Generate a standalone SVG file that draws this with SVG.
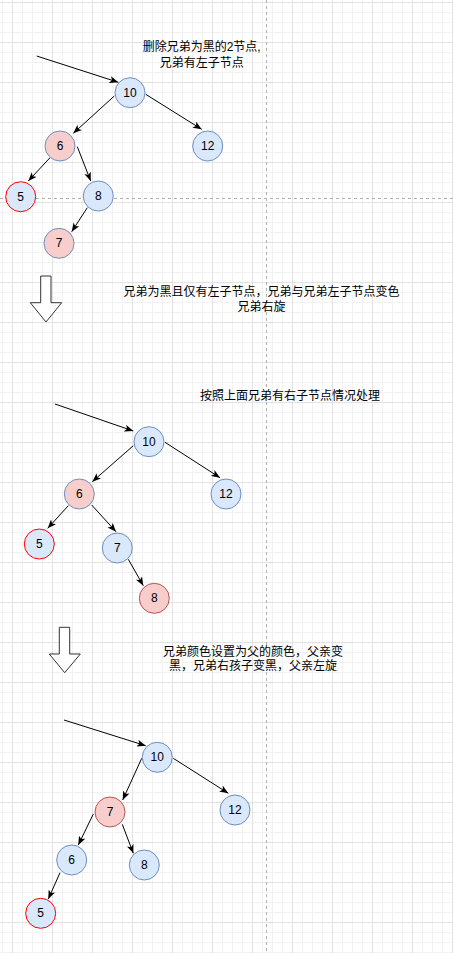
<svg xmlns="http://www.w3.org/2000/svg" width="453" height="953" viewBox="0 0 453 953">
<style>
.n circle{stroke-width:1}
.blue circle{fill:#dae8fc;stroke:#6c8ebf}
.pink circle{fill:#f8cecc;stroke:#6c8ebf}
.red circle{fill:#f8cecc;stroke:#b85450}
.rb circle{fill:#dae8fc;stroke:#ff0000}
.n text{font-family:"Liberation Sans","Noto Sans CJK SC",sans-serif;font-size:12px;fill:#000;text-anchor:middle}
.lbl{font-family:"Liberation Sans","Noto Sans CJK SC",sans-serif;font-size:12px;fill:#000;text-anchor:middle}
.e line{stroke:#000;stroke-width:1;marker-end:url(#ah)}
.blk{fill:#fff;stroke:#333;stroke-width:1}
.dash{stroke:#b0b0b0;stroke-width:1;stroke-dasharray:3 3}
</style>
<defs>
<pattern id="minor" patternUnits="userSpaceOnUse" x="2" y="2" width="10" height="10">
<path d="M0.5,0 V10 M0,0.5 H10" stroke="#f2f2f2" stroke-width="1" fill="none"/>
</pattern>
<pattern id="major" patternUnits="userSpaceOnUse" x="12" y="2" width="40" height="40">
<path d="M0.5,0 V40 M0,0.5 H40" stroke="#e2e2e2" stroke-width="1" fill="none"/>
</pattern>
<marker id="ah" viewBox="0 0 10 8" refX="10" refY="4" markerWidth="9" markerHeight="7" markerUnits="userSpaceOnUse" orient="auto">
<path d="M0,0 L10,4 L0,8 L2.5,4 Z" fill="#000"/>
</marker>
</defs>
<rect width="453" height="953" fill="#fff"/>
<rect width="453" height="953" fill="url(#minor)"/>
<rect width="453" height="953" fill="url(#major)"/>
<line class="dash" x1="266.5" y1="0" x2="266.5" y2="953"/>
<line class="dash" x1="0" y1="198.5" x2="453" y2="198.5"/>

<g id="connectors" class="e">
<line x1="36.7" y1="56" x2="118.3" y2="82.3"/>
<line x1="114.3" y1="96" x2="73.3" y2="133.3"/>
<line x1="145.7" y1="94.3" x2="201.7" y2="129.3"/>
<line x1="50" y1="157.7" x2="28.3" y2="181"/>
<line x1="77.3" y1="146.7" x2="90.7" y2="181"/>
<line x1="87.3" y1="207.7" x2="71.7" y2="231.7"/>

<line x1="55" y1="404" x2="133.3" y2="431"/>
<line x1="133.3" y1="445.7" x2="92.3" y2="481.7"/>
<line x1="165" y1="442.3" x2="220" y2="477.7"/>
<line x1="68.3" y1="505.7" x2="47.7" y2="528.3"/>
<line x1="91.7" y1="505" x2="116" y2="531.7"/>
<line x1="128.3" y1="559.3" x2="143.3" y2="585.7"/>

<line x1="64" y1="720" x2="145.7" y2="745.7"/>
<line x1="141.7" y1="758.3" x2="122.7" y2="800"/>
<line x1="173.3" y1="758.3" x2="228.3" y2="793.3"/>
<line x1="93.3" y1="814" x2="78.3" y2="845"/>
<line x1="122.3" y1="824.3" x2="133.3" y2="853.3"/>
<line x1="60" y1="872.7" x2="48.3" y2="899"/>
</g>

<g id="t1-n10" class="n blue"><circle cx="130" cy="92.7" r="15"/><text x="130" y="96.7">10</text></g>
<g id="t1-n6" class="n pink"><circle cx="60" cy="146" r="15"/><text x="60" y="150">6</text></g>
<g id="t1-n12" class="n blue"><circle cx="207.7" cy="146" r="15"/><text x="207.7" y="150">12</text></g>
<g id="t1-n5" class="n rb"><circle cx="20.7" cy="196.7" r="15"/><text x="20.7" y="200.7">5</text></g>
<g id="t1-n8" class="n blue"><circle cx="98.3" cy="196" r="15"/><text x="98.3" y="200">8</text></g>
<g id="t1-n7" class="n pink"><circle cx="59" cy="243.3" r="15"/><text x="59" y="247.3">7</text></g>

<g id="t2-n10" class="n blue"><circle cx="149" cy="441.7" r="15"/><text x="149" y="445.7">10</text></g>
<g id="t2-n6" class="n pink"><circle cx="79.3" cy="494" r="15"/><text x="79.3" y="498">6</text></g>
<g id="t2-n12" class="n blue"><circle cx="226" cy="494" r="15"/><text x="226" y="498">12</text></g>
<g id="t2-n5" class="n rb"><circle cx="39.3" cy="544" r="15"/><text x="39.3" y="548">5</text></g>
<g id="t2-n7" class="n blue"><circle cx="117.3" cy="548" r="15"/><text x="117.3" y="552">7</text></g>
<g id="t2-n8" class="n red"><circle cx="154.3" cy="598.3" r="15"/><text x="154.3" y="602.3">8</text></g>

<g id="t3-n10" class="n blue"><circle cx="157.3" cy="757.3" r="15"/><text x="157.3" y="761.3">10</text></g>
<g id="t3-n7" class="n red"><circle cx="110" cy="812" r="15"/><text x="110" y="816">7</text></g>
<g id="t3-n12" class="n blue"><circle cx="235" cy="810" r="15"/><text x="235" y="814">12</text></g>
<g id="t3-n6" class="n blue"><circle cx="71.7" cy="860" r="15"/><text x="71.7" y="864">6</text></g>
<g id="t3-n8" class="n blue"><circle cx="144.3" cy="865" r="15"/><text x="144.3" y="869">8</text></g>
<g id="t3-n5" class="n rb"><circle cx="40.7" cy="913.3" r="15"/><text x="40.7" y="917.3">5</text></g>

<g id="arrow1"><path class="blk" d="M40.7,276 L51,276 L51,302.7 L61.7,302.7 L46,322 L30.3,302.7 L40.7,302.7 Z"/></g>
<g id="arrow2"><path class="blk" d="M59.3,627.3 L69.7,627.3 L69.7,654 L80.3,654 L64.7,672.7 L49.3,654 L59.3,654 Z"/></g>

<g id="label1"><text class="lbl" x="201.7" y="50.7">删除兄弟为黑的2节点,</text><text class="lbl" x="201.7" y="67.3">兄弟有左子节点</text></g>
<g id="label2"><text class="lbl" x="261.5" y="296.3">兄弟为黑且仅有左子节点，兄弟与兄弟左子节点变色</text><text class="lbl" x="261.5" y="311.3">兄弟右旋</text></g>
<g id="label3"><text class="lbl" x="290" y="400">按照上面兄弟有右子节点情况处理</text></g>
<g id="label4"><text class="lbl" x="253" y="655.7">兄弟颜色设置为父的颜色，父亲变</text><text class="lbl" x="253" y="669.7">黑，兄弟右孩子变黑，父亲左旋</text></g>
</svg>
